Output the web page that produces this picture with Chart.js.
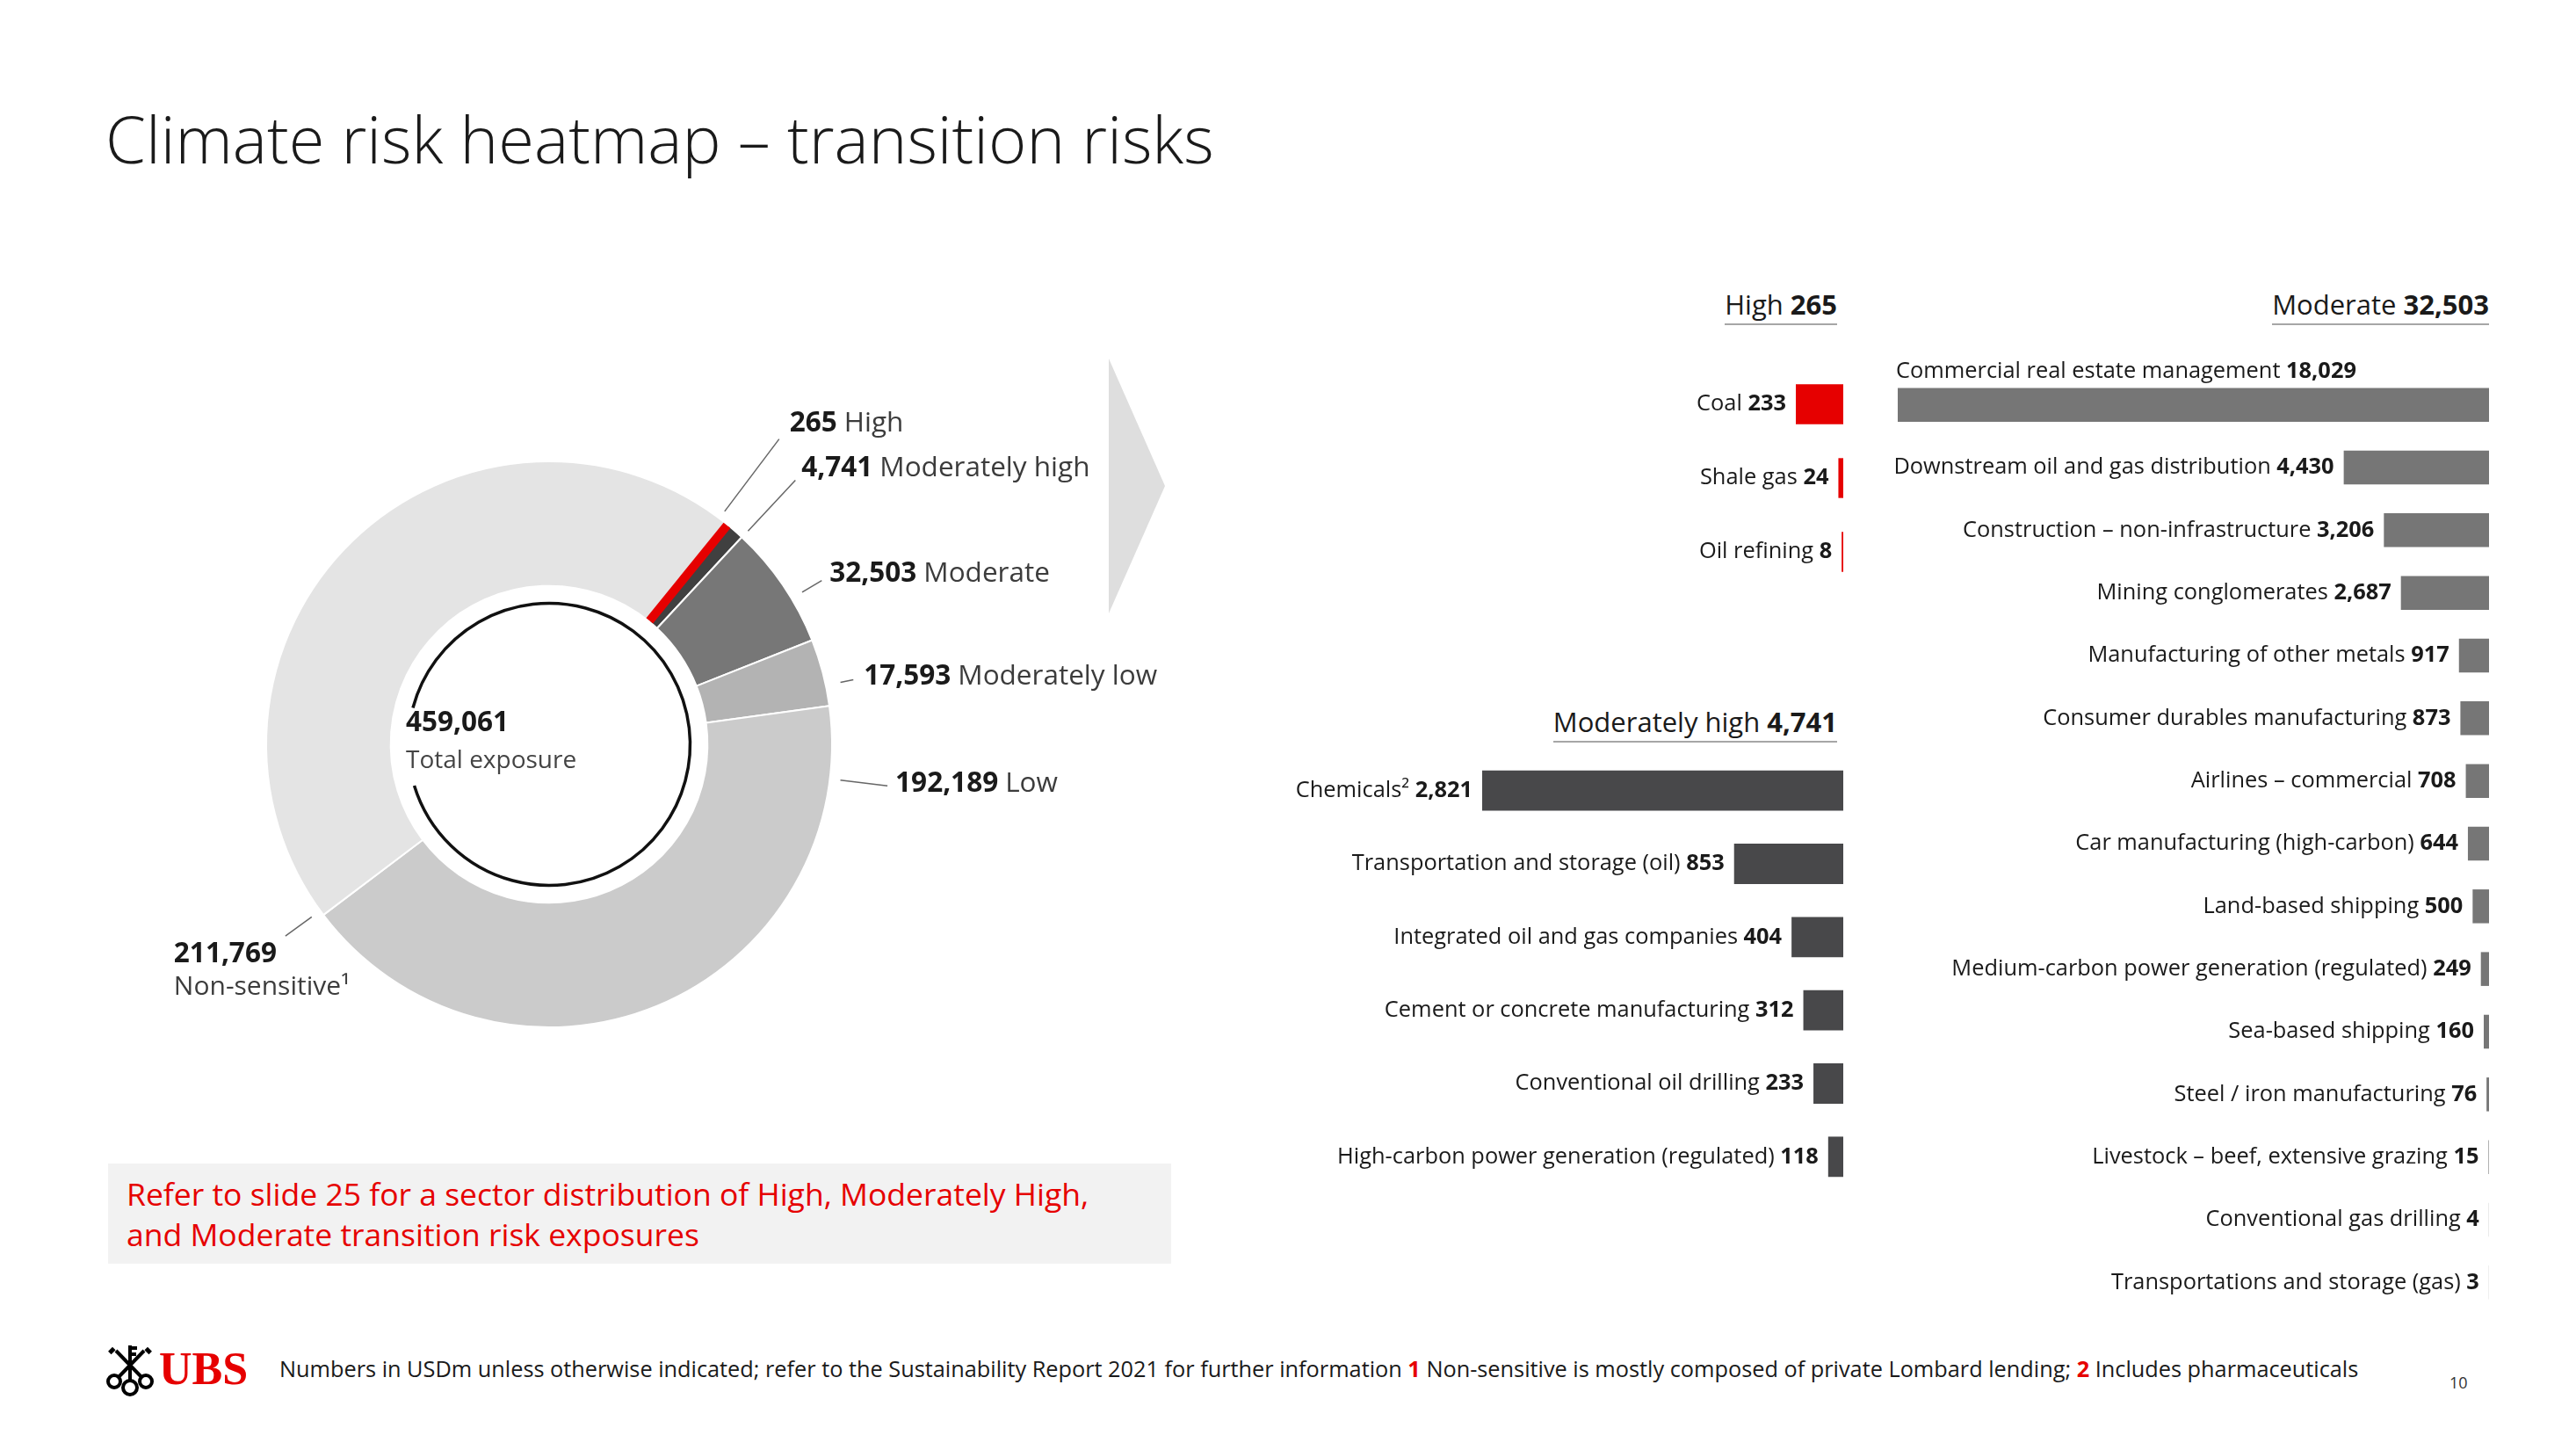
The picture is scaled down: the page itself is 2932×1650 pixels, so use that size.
<!DOCTYPE html>
<html lang="en">
<head>
<meta charset="utf-8">
<title>Climate risk heatmap – transition risks</title>
<script src="https://cdn.jsdelivr.net/npm/chart.js@4.4.1/dist/chart.umd.min.js"></script>
<style>
  html, body { margin: 0; padding: 0; }
  body {
    width: 2932px; height: 1650px; position: relative; overflow: hidden; background: #fff;
    font-family: "Open Sans", "Noto Sans", sans-serif; color: #1a1a1a;
  }
  .abs { position: absolute; white-space: nowrap; }
  canvas { position: absolute; }
  h1 { position: absolute; left: 120px; top: 108px; margin: 0; font-weight: 300; font-size: 74px; line-height: 100px; white-space: nowrap; }
  .hdr { position: absolute; font-size: 31px; line-height: 40px; padding-bottom: 2px; border-bottom: 2px solid #a6a6a6; white-space: nowrap; }
  .hdr b { font-weight: 700; }
  .note { position: absolute; left: 123px; top: 1324px; width: 1210px; height: 114px; background: #f2f2f2;
          box-sizing: border-box; padding: 11px 0 0 21px; color: #e60000; font-size: 35.5px; line-height: 46px; white-space: nowrap; }
  .ubs { position: absolute; left: 181px; top: 1528px; font-family: "Liberation Serif", serif; font-weight: 700;
         font-size: 52px; line-height: 60px; color: #e60000; }
  .foot { position: absolute; left: 318px; top: 1541px; font-size: 25.3px; line-height: 32px; white-space: nowrap; }
  .foot b { color: #e60000; }
  .page { position: absolute; left: 2788px; top: 1561px; font-size: 18px; line-height: 24px; color: #333; }
</style>
</head>
<body>

<h1>Climate risk heatmap – transition risks</h1>

<canvas id="donut" width="1300" height="830" style="left:150px;top:430px"></canvas>

<svg class="abs" style="left:1262px;top:408px" width="66" height="292">
  <polygon points="0,0 64,145 0,290" fill="#dedede"/>
</svg>

<div class="hdr" style="right:841px;top:326px">High <b>265</b></div>
<div class="hdr" style="right:841px;top:801px">Moderately high <b>4,741</b></div>
<div class="hdr" style="right:99px;top:326px">Moderate <b>32,503</b></div>

<canvas id="highBars" width="298" height="252" style="left:1800px;top:418px"></canvas>
<canvas id="modHighBars" width="658" height="500" style="left:1440px;top:858px"></canvas>
<canvas id="moderateBars" width="743" height="1110" style="left:2090px;top:385px"></canvas>

<div class="note">Refer to slide 25 for a sector distribution of High, Moderately High,<br>and Moderate transition risk exposures</div>

<svg class="abs" style="left:120px;top:1528px" width="56" height="62" viewBox="0 0 56 62">
  <g stroke="#000" stroke-width="4" fill="none">
    <line x1="28" y1="44" x2="28" y2="3"/>
    <line x1="14" y1="40" x2="44" y2="9"/>
    <line x1="42" y1="40" x2="12" y2="9"/>
    <circle cx="10" cy="44" r="7"/>
    <circle cx="46" cy="44" r="7"/>
    <circle cx="28" cy="51" r="8"/>
  </g>
  <g fill="#000">
    <rect x="29" y="4" width="7" height="4"/>
    <rect x="29" y="11" width="6" height="4"/>
    <rect x="4" y="6" width="7" height="5" transform="rotate(-45 8 9)"/>
    <rect x="45" y="6" width="7" height="5" transform="rotate(45 48 9)"/>
  </g>
</svg>
<div class="ubs">UBS</div>

<div class="foot">Numbers in USDm unless otherwise indicated; refer to the Sustainability Report 2021 for further information <b>1</b> Non-sensitive is mostly composed of private Lombard lending; <b>2</b> Includes pharmaceuticals</div>
<div class="page">10</div>

<script>
// Total exposure split by transition risk level (USDm)
const exposureLabels = ['High', 'Moderately high', 'Moderate', 'Moderately low', 'Low', 'Non-sensitive¹'];
const exposureValues = [265, 4741, 32503, 17593, 192189, 211769];
const totalExposure = 459061;

// High
const highSectors = ['Coal', 'Shale gas', 'Oil refining'];
const highValues = [233, 24, 8];

// Moderately high
const modHighSectors = [
    'Chemicals²',
    'Transportation and storage (oil)',
    'Integrated oil and gas companies',
    'Cement or concrete manufacturing',
    'Conventional oil drilling',
    'High-carbon power generation (regulated)'
];
const modHighValues = [2821, 853, 404, 312, 233, 118];

// Moderate
const moderateSectors = [
    'Commercial real estate management',
    'Downstream oil and gas distribution',
    'Construction – non-infrastructure',
    'Mining conglomerates',
    'Manufacturing of other metals',
    'Consumer durables manufacturing',
    'Airlines – commercial',
    'Car manufacturing (high-carbon)',
    'Land-based shipping',
    'Medium-carbon power generation (regulated)',
    'Sea-based shipping',
    'Steel / iron manufacturing',
    'Livestock – beef, extensive grazing',
    'Conventional gas drilling',
    'Transportations and storage (gas)'
];
const moderateValues = [18029, 4430, 3206, 2687, 917, 873, 708, 644, 500, 249, 160, 76, 15, 4, 3];

const RED = '#e60000';
const FONT = '"Open Sans", "Noto Sans", sans-serif';
const fmt = v => v.toLocaleString('en-US');

// callout placement around the ring (angle clockwise from 12 o'clock, distances beyond outer radius)
const callouts = [
    { angle: 37,  r0: 10, r1: 113, dx: 12,   dy: -18 },
    { angle: 43,  r0: 10, r1: 89,  dx: 7,    dy: -13 },
    { angle: 59,  r0: 14, r1: 40,  dx: 9,    dy: -8 },
    { angle: 78,  r0: 17, r1: 32,  dx: 12,   dy: -3 },
    { angle: 97,  r0: 12, r1: 66,  dx: 9,    dy: -2 },
    { angle: 234, r0: 12, r1: 49,  dx: -127, dy: 21, stacked: true }
];
const CALLOUT_SIZE = 31.5;

const donutDecor = {
    id: 'donutDecor',
    afterDatasetsDraw(chart) {
        const ctx = chart.ctx;
        const arcs = chart.getDatasetMeta(0).data;
        const { x, y, innerRadius, outerRadius } = arcs[0];
        ctx.save();

        // the High slice is very thin, give it a visible stroke along its middle
        const hi = arcs[0];
        const mid = (hi.startAngle + hi.endAngle) / 2;
        ctx.strokeStyle = RED;
        ctx.lineWidth = 10;
        ctx.beginPath();
        ctx.moveTo(x + Math.cos(mid) * (innerRadius + 1), y + Math.sin(mid) * (innerRadius + 1));
        ctx.lineTo(x + Math.cos(mid) * (outerRadius - 1), y + Math.sin(mid) * (outerRadius - 1));
        ctx.stroke();

        // black ring inside the hole, open on the left for the total
        const deg = d => (d - 90) * Math.PI / 180;
        ctx.strokeStyle = '#111';
        ctx.lineWidth = 3.5;
        ctx.beginPath();
        ctx.arc(x, y, innerRadius * 0.89, deg(285), deg(253));
        ctx.stroke();

        ctx.textBaseline = 'middle';
        ctx.textAlign = 'left';
        ctx.font = `700 31.5px ${FONT}`;
        ctx.fillStyle = '#1a1a1a';
        ctx.fillText(fmt(totalExposure), x - 163, y - 24);
        ctx.font = `400 28px ${FONT}`;
        ctx.fillStyle = '#444';
        ctx.fillText('Total exposure', x - 163, y + 19);

        // leader lines + labels
        callouts.forEach((c, i) => {
            const a = deg(c.angle);
            const r0 = outerRadius + c.r0, r1 = outerRadius + c.r1;
            ctx.strokeStyle = '#666';
            ctx.lineWidth = 1.5;
            ctx.beginPath();
            ctx.moveTo(x + Math.cos(a) * r0, y + Math.sin(a) * r0);
            ctx.lineTo(x + Math.cos(a) * r1, y + Math.sin(a) * r1);
            ctx.stroke();

            const tx = x + Math.cos(a) * r1 + c.dx;
            const ty = y + Math.sin(a) * r1 + c.dy;
            const num = fmt(exposureValues[i]);
            ctx.font = `700 ${CALLOUT_SIZE}px ${FONT}`;
            ctx.fillStyle = '#1a1a1a';
            ctx.fillText(num, tx, ty);
            const w = ctx.measureText(num).width;
            ctx.fillStyle = '#3c3c3c';
            if (c.stacked) {
                ctx.font = `400 30px ${FONT}`;
                ctx.fillText(exposureLabels[i], tx, ty + 37);
            } else {
                ctx.font = `400 ${CALLOUT_SIZE}px ${FONT}`;
                ctx.fillText(exposureLabels[i], tx + w + 8, ty);
            }
        });
        ctx.restore();
    }
};

new Chart(document.getElementById('donut'), {
    type: 'doughnut',
    data: {
        labels: exposureLabels,
        datasets: [{
            data: exposureValues,
            backgroundColor: [RED, '#404040', '#777777', '#b3b3b3', '#cbcbcb', '#e4e4e4'],
            borderColor: '#ffffff',
            borderWidth: 2
        }]
    },
    options: {
        responsive: false,
        animation: false,
        rotation: 39,
        cutout: '56%',
        layout: { padding: { left: 152, right: 502, top: 94, bottom: 90 } },
        plugins: { legend: { display: false }, tooltip: { enabled: false } }
    },
    plugins: [donutDecor]
});

// sector name + bold value next to the end of each bar
const LABEL_SIZE = 25.4;
const barLabels = {
    id: 'barLabels',
    afterDatasetsDraw(chart) {
        const ctx = chart.ctx;
        const values = chart.data.datasets[0].data;
        ctx.save();
        ctx.textBaseline = 'middle';
        ctx.fillStyle = '#1a1a1a';
        chart.getDatasetMeta(0).data.forEach((bar, i) => {
            const name = chart.data.labels[i];
            const num = fmt(values[i]);
            ctx.font = `400 ${LABEL_SIZE}px ${FONT}`;
            const wName = ctx.measureText(name + ' ').width;
            ctx.font = `700 ${LABEL_SIZE}px ${FONT}`;
            const wNum = ctx.measureText(num).width;
            const left = Math.min(bar.x, bar.base);
            let tx = left - 11 - wName - wNum;
            let ty = bar.y;
            if (tx < 0) { // no room on the left: put it above the bar
                tx = left - 2;
                ty = bar.y - bar.height / 2 - 19;
            }
            ctx.font = `400 ${LABEL_SIZE}px ${FONT}`;
            ctx.fillText(name + ' ', tx, ty);
            ctx.font = `700 ${LABEL_SIZE}px ${FONT}`;
            ctx.fillText(num, tx + wName, ty);
        });
        ctx.restore();
    }
};

const makeBars = (id, labels, values, color, barPct, padding) => new Chart(document.getElementById(id), {
    type: 'bar',
    data: {
        labels: labels,
        datasets: [{ data: values, backgroundColor: color, barPercentage: barPct, categoryPercentage: 1 }]
    },
    options: {
        indexAxis: 'y',
        responsive: false,
        animation: false,
        layout: { padding: padding },
        scales: {
            x: { display: false, reverse: true, min: 0, max: Math.max(...values) },
            y: { display: false }
        },
        plugins: { legend: { display: false }, tooltip: { enabled: false } }
    },
    plugins: [barLabels]
});

makeBars('highBars', highSectors, highValues, RED, 0.54, { left: 244, right: 0, top: 0, bottom: 0 });
makeBars('modHighBars', modHighSectors, modHighValues, '#48484a', 0.55, { left: 247, right: 0, top: 0, bottom: 0 });
makeBars('moderateBars', moderateSectors, moderateValues, '#767676', 0.54, { left: 70, right: 0, top: 40, bottom: 0 });
</script>
</body>
</html>
